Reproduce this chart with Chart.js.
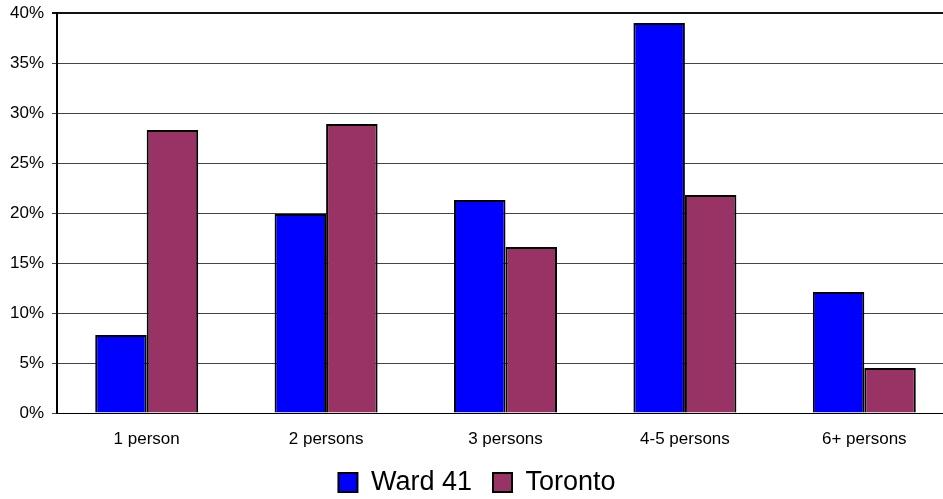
<!DOCTYPE html>
<html>
<head>
<meta charset="utf-8">
<script src="https://cdn.jsdelivr.net/npm/chart.js@4/dist/chart.umd.min.js"></script>
<style>
  html, body { margin: 0; padding: 0; background: #fff; overflow: hidden; }
  .wrap { width: 960px; height: 506px; }
</style>
</head>
<body>
<div class="wrap"><canvas id="householdChart" width="960" height="506"></canvas></div>
<script>
const categories = ["1 person", "2 persons", "3 persons", "4-5 persons", "6+ persons"];
const ward41 = [7.8, 19.9, 21.3, 39.0, 12.1];
const toronto = [28.3, 28.9, 16.6, 21.8, 4.5];
const yTicks = [0, 5, 10, 15, 20, 25, 30, 35, 40];

const font = "'Liberation Sans', Arial, sans-serif";

const ctx = document.getElementById("householdChart").getContext("2d");
new Chart(ctx, {
  type: "bar",
  data: {
    labels: categories,
    datasets: [
      {
        label: "Ward 41",
        data: ward41,
        backgroundColor: "#0000ff",
        borderColor: "#000",
        borderWidth: 2,
      },
      {
        label: "Toronto",
        data: toronto,
        backgroundColor: "#993366",
        borderColor: "#000",
        borderWidth: 2,
      },
    ],
  },
  options: {
    responsive: false,
    animation: false,
    layout: { padding: { top: 13, right: 6, left: 0, bottom: 0 } },
    datasets: {
      bar: { categoryPercentage: 0.574, barPercentage: 1.0 },
    },
    plugins: {
      tooltip: { enabled: false },
      legend: {
        position: "bottom",
        labels: {
          color: "#000",
          font: { family: font, size: 27 },
          boxWidth: 19,
          boxHeight: 19,
          padding: 21,
        },
      },
    },
    scales: {
      x: {
        afterFit: (scale) => {
          scale.height = 35;
        },
        grid: { display: false, drawTicks: false },
        border: { color: "#000", width: 1 },
        ticks: {
          color: "#000",
          font: { family: font, size: 17 },
          padding: 16,
          maxRotation: 0,
        },
      },
      y: {
        min: 0,
        max: 40,
        afterBuildTicks: (scale) => {
          scale.ticks = yTicks.map((v) => ({ value: v }));
        },
        afterFit: (scale) => {
          scale.width = 57;
        },
        grid: {
          color: (c) => (c.tick && c.tick.value === 40 ? "#111" : "#444"),
          lineWidth: (c) => (c.tick && c.tick.value === 40 ? 2 : 1),
          tickLength: 5,
        },
        border: { color: "#000", width: 2 },
        ticks: {
          color: "#000",
          font: { family: font, size: 17, lineHeight: 0.5 },
          padding: 8,
          callback: (v) => v + "%",
        },
      },
    },
  },
});
</script>
</body>
</html>
